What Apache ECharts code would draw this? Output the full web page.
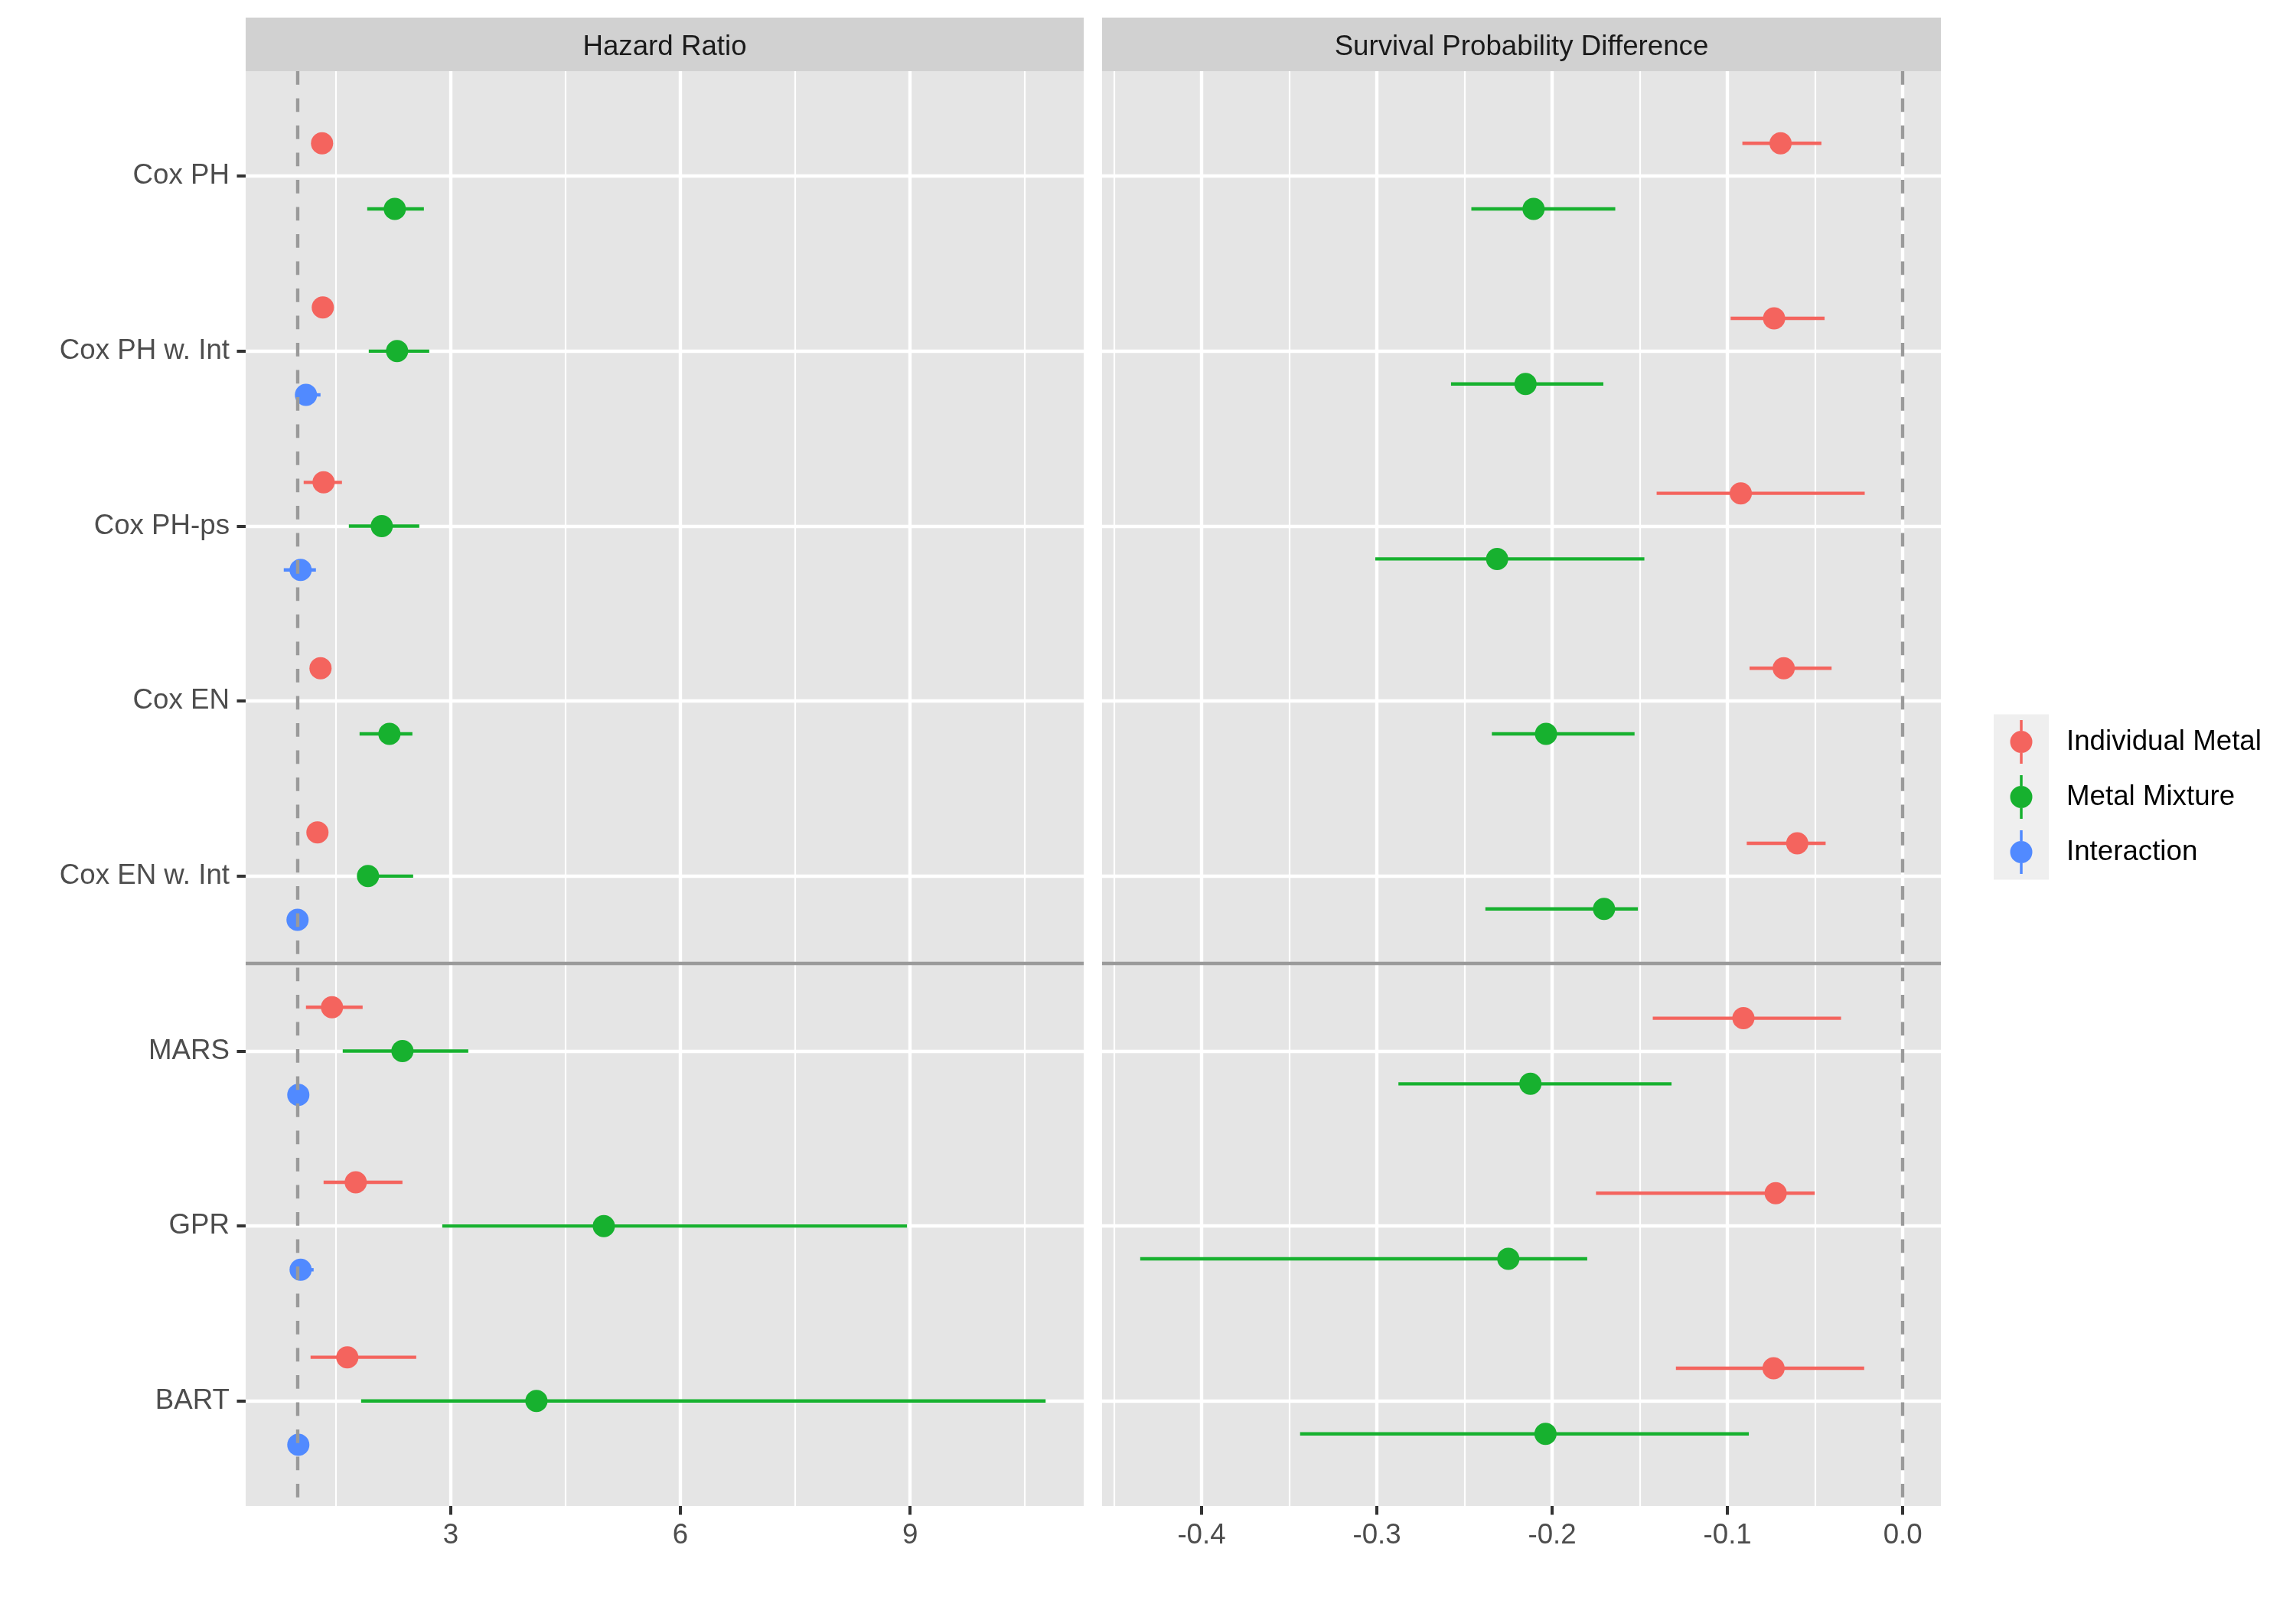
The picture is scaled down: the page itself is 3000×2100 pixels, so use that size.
<!DOCTYPE html>
<html><head><meta charset="utf-8">
<script src="https://cdn.jsdelivr.net/npm/echarts@6/dist/echarts.min.js"></script>
<style>html,body{margin:0;padding:0;background:#fff}#c{width:3000px;height:2100px}</style>
</head><body><div id="c"></div>
<script>
// ---------------- data ----------------
const categories = ["Cox PH", "Cox PH w. Int", "Cox PH-ps", "Cox EN", "Cox EN w. Int", "MARS", "GPR", "BART"];
const groups = ["Individual Metal", "Metal Mixture", "Interaction"];
const facets = ["Hazard Ratio", "Survival Probability Difference"];

// Hazard Ratio panel
const hrIndEst = [1.32, 1.33, 1.34, 1.30, 1.26, 1.45, 1.76, 1.65];
const hrIndLo  = [1.24, 1.25, 1.08, 1.22, 1.18, 1.11, 1.34, 1.17];
const hrIndHi  = [1.40, 1.42, 1.58, 1.39, 1.35, 1.85, 2.37, 2.55];
const hrMixEst = [2.27, 2.30, 2.10, 2.20, 1.92, 2.37, 5.00, 4.12];
const hrMixLo  = [1.91, 1.93, 1.67, 1.81, 1.80, 1.59, 2.89, 1.83];
const hrMixHi  = [2.65, 2.72, 2.59, 2.50, 2.51, 3.23, 8.96, 10.77];
const hrIntEst = [null, 1.11, 1.04, null, 1.00, 1.01, 1.04, 1.01];
const hrIntLo  = [null, 1.00, 0.82, null, 0.95, 0.95, 0.98, 0.95];
const hrIntHi  = [null, 1.30, 1.24, null, 1.06, 1.07, 1.21, 1.07];

// Survival Probability Difference panel
const spIndEst = [-0.0697, -0.0734, -0.0924, -0.0679, -0.0602, -0.0909, -0.0725, -0.0737];
const spIndLo  = [-0.0915, -0.0982, -0.1404, -0.0874, -0.0890, -0.1426, -0.1750, -0.1294];
const spIndHi  = [-0.0464, -0.0446, -0.0217, -0.0406, -0.0440, -0.0352, -0.0502, -0.0220];
const spMixEst = [-0.2106, -0.2152, -0.2314, -0.2035, -0.1704, -0.2124, -0.2250, -0.2038];
const spMixLo  = [-0.2461, -0.2577, -0.3009, -0.2344, -0.2381, -0.2877, -0.4350, -0.3438];
const spMixHi  = [-0.1640, -0.1708, -0.1474, -0.1530, -0.1511, -0.1319, -0.1800, -0.0878];

// reference lines
const refLines = [1, 0];
const separatorAfter = 5; // line between "Cox EN w. Int" and "MARS"

// ticks
const hrTicks = [3, 6, 9];
const hrTickLabels = ["3", "6", "9"];
const hrMinor = [1.5, 4.5, 7.5, 10.5];
const spTicks = [-0.4, -0.3, -0.2, -0.1, 0];
const spTickLabels = ["-0.4", "-0.3", "-0.2", "-0.1", "0.0"];
const spMinor = [-0.45, -0.35, -0.25, -0.15, -0.05];

// ---------------- styling ----------------
const FONT = "'Liberation Sans', Arial, Helvetica, sans-serif";
const FS = 36.7;
const colors = ["#F4645E", "#17B12F", "#518AFF"];
const panelBg = "#E5E5E5";
const stripBg = "#D1D1D1";

const panels = [
  {est: [hrIndEst, hrMixEst, hrIntEst], lo: [hrIndLo, hrMixLo, hrIntLo], hi: [hrIndHi, hrMixHi, hrIntHi],
   ticks: hrTicks, labels: hrTickLabels, minor: hrMinor, ref: refLines[0]},
  {est: [spIndEst, spMixEst, null], lo: [spIndLo, spMixLo, null], hi: [spIndHi, spMixHi, null],
   ticks: spTicks, labels: spTickLabels, minor: spMinor, ref: refLines[1]}
];
const gridBoxes = [
  {left: 321, top: 93, width: 1095, height: 1875},
  {left: 1440, top: 93, width: 1096, height: 1875}
];

// dodge positions (ggplot position_dodge width 0.75)
function dodge(panel) {
  const pos = [[], [], []];
  for (let c = 0; c < categories.length; c++) {
    const present = [];
    for (let g = 0; g < 3; g++) if (panel.est[g] && panel.est[g][c] != null) present.push(g);
    const n = present.length;
    present.forEach((g, k) => { pos[g][c] = (c + 1) + (-0.375 + (k + 0.5) * 0.75 / n); });
  }
  return pos;
}
function extent(panel) {
  let mn = panel.ref, mx = panel.ref;
  for (let g = 0; g < 3; g++) {
    if (!panel.lo[g]) continue;
    panel.lo[g].forEach(v => { if (v != null) mn = Math.min(mn, v); });
    panel.hi[g].forEach(v => { if (v != null) mx = Math.max(mx, v); });
  }
  const pad = (mx - mn) * 0.05;
  return [mn - pad, mx + pad];
}

const grid = [], xAxis = [], yAxis = [], series = [];
const catVals = categories.map((_, i) => i + 1);

panels.forEach((p, pi) => {
  const b = gridBoxes[pi];
  grid.push({left: b.left, top: b.top, width: b.width, height: b.height, show: true,
    backgroundColor: panelBg, borderWidth: 0, containLabel: false});
  const [mn, mx] = extent(p);
  // main x axis
  xAxis.push({type: 'value', gridIndex: pi, min: mn, max: mx,
    axisLine: {show: false},
    axisTick: {show: true, customValues: p.ticks, length: 11.5, lineStyle: {color: '#333333', width: 4}},
    axisLabel: {show: true, customValues: p.ticks, margin: 20, fontSize: FS, fontFamily: FONT, color: '#4D4D4D',
      formatter: v => { const i = p.ticks.findIndex(t => Math.abs(t - v) < 1e-9); return i >= 0 ? p.labels[i] : ''; }},
    splitLine: {show: true, lineStyle: {color: '#FFFFFF', width: 4.4}}
  });
  // minor grid x axis
  xAxis.push({type: 'value', gridIndex: pi, min: mn, max: mx, position: 'bottom',
    axisLine: {show: false},
    axisTick: {show: false, customValues: p.minor},
    axisLabel: {show: false, customValues: p.minor},
    splitLine: {show: true, lineStyle: {color: '#FFFFFF', width: 2.2}}
  });
  yAxis.push({type: 'value', gridIndex: pi, min: 0.4, max: categories.length + 0.6, inverse: true,
    axisLine: {show: false},
    axisTick: {show: pi === 0, customValues: catVals, length: 11.5, lineStyle: {color: '#333333', width: 4}},
    axisLabel: {show: pi === 0, customValues: catVals, margin: 21, fontSize: FS, fontFamily: FONT, color: '#4D4D4D',
      padding: [8, 0, 0, 0],
      formatter: v => categories[Math.round(v) - 1] || ''},
    splitLine: {show: true, lineStyle: {color: '#FFFFFF', width: 4.4}}
  });

  const pos = dodge(p);
  const xi = pi * 2;
  for (let g = 0; g < 3; g++) {
    if (!p.est[g]) continue;
    const pts = [], bars = [];
    for (let c = 0; c < categories.length; c++) {
      if (p.est[g][c] == null) continue;
      pts.push([p.est[g][c], pos[g][c]]);
      bars.push([p.lo[g][c], p.hi[g][c], pos[g][c]]);
    }
    series.push({type: 'scatter', name: groups[g], xAxisIndex: xi, yAxisIndex: pi, data: pts,
      symbol: 'circle', symbolSize: 29, itemStyle: {color: colors[g], opacity: 1}, z: 3, silent: true});
    series.push({type: 'custom', name: groups[g], xAxisIndex: xi, yAxisIndex: pi, data: bars, z: 2, silent: true,
      itemStyle: {color: colors[g]},
      encode: {x: [0, 1], y: 2},
      renderItem: (params, api) => {
        const a = api.coord([api.value(0), api.value(2)]);
        const bb = api.coord([api.value(1), api.value(2)]);
        return {type: 'line', shape: {x1: a[0], y1: a[1], x2: bb[0], y2: bb[1]},
          style: {stroke: colors[g], lineWidth: 4.4}};
      }});
  }
  series.push({type: 'line', name: 'ref' + pi, xAxisIndex: xi, yAxisIndex: pi, data: [], z: 5, silent: true,
    markLine: {silent: true, symbol: 'none', animation: false, label: {show: false},
      data: [
        {xAxis: p.ref, lineStyle: {type: [17.75, 17.75], color: '#9A9A9A', width: 4.4}},
        {yAxis: separatorAfter + 0.5, lineStyle: {type: 'solid', color: '#9A9A9A', width: 4.4}}
      ]}});
});

const iconPath = 'path://M12.75,0 L16.25,0 L16.25,14 L12.75,14 Z M12.75,43 L16.25,43 L16.25,57 L12.75,57 Z M0,28.5 A14.5,14.5 0 1 1 29,28.5 A14.5,14.5 0 1 1 0,28.5 Z';

const graphic = [];
facets.forEach((f, i) => {
  const b = gridBoxes[i];
  graphic.push({type: 'rect', shape: {x: b.left, y: 23, width: b.width, height: 70}, style: {fill: stripBg}, silent: true});
  graphic.push({type: 'text', x: b.left + b.width / 2, y: 62, silent: true,
    style: {text: f, fill: '#1A1A1A', font: FS + 'px ' + FONT, textAlign: 'center', textVerticalAlign: 'middle'}});
});
graphic.push({type: 'rect', shape: {x: 2605, y: 933.5, width: 72, height: 216}, style: {fill: '#EFEFEF'}, silent: true, z: -1});

const chart = echarts.init(document.getElementById('c'), null, {renderer: 'canvas'});
chart.setOption({
  animation: false,
  backgroundColor: '#FFFFFF',
  textStyle: {fontFamily: FONT},
  grid, xAxis, yAxis, series, graphic,
  legend: {orient: 'vertical', left: 2626.5, top: 941, itemWidth: 29, itemHeight: 57, itemGap: 15, padding: 0,
    selectedMode: false,
    data: groups.map(n => ({name: n, icon: iconPath})),
    textStyle: {fontSize: FS, fontFamily: FONT, color: '#000000', padding: [8, 0, 0, 39.5]}}
});
</script></body></html>
